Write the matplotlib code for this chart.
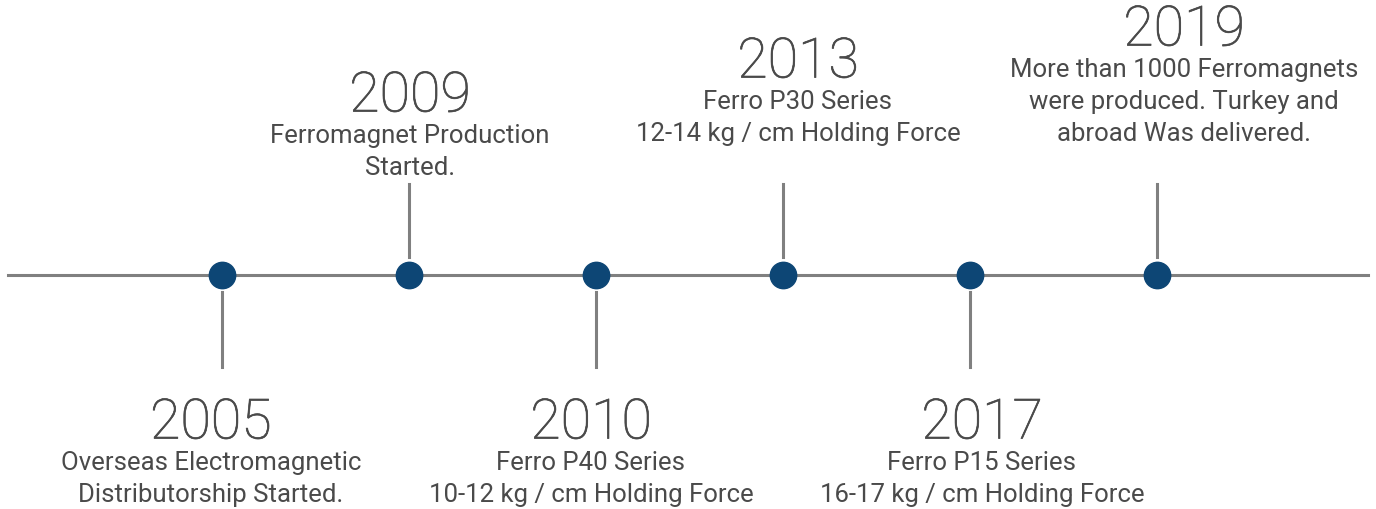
import matplotlib
matplotlib.use("Agg")
import matplotlib.pyplot as plt
import matplotlib.patheffects as pe

# timeline data
years = ["2005", "2009", "2010", "2013", "2017", "2019"]
descriptions = [
    ["Overseas Electromagnetic", "Distributorship Started."],
    ["Ferromagnet Production", "Started."],
    ["Ferro P40 Series", "10-12 kg / cm Holding Force"],
    ["Ferro P30 Series", "12-14 kg / cm Holding Force"],
    ["Ferro P15 Series", "16-17 kg / cm Holding Force"],
    ["More than 1000 Ferromagnets", "were produced. Turkey and", "abroad Was delivered."],
]
sides = ["down", "up", "down", "up", "down", "up"]

DOT = "#0d4675"
LINE = "#808080"
TXT = "#4a4a4a"

# label placement: y of the year label (pixel rows, axis inverted)
# and horizontal shift of the text block relative to its dot (in slots)
year_y = [424, 97, 424, 63, 424, 31]
text_dx = [-0.06, 0.005, -0.027, 0.08, 0.064, 0.144]

plt.rcParams["font.family"] = ["Roboto", "DejaVu Sans"]

fig = plt.figure(figsize=(13.76, 5.10), dpi=100)
ax = fig.add_axes([0, 0, 1, 1])
ax.set_xlim(-1.187, 6.171)
ax.set_ylim(510, 0)
ax.axis("off")

idx = list(range(len(years)))
ax.plot([idx[0] - 1.144, idx[-1] + 1.128], [276, 276], color=LINE, lw=2.2, zorder=1)

thick = [pe.withStroke(linewidth=0.5, foreground=TXT)]

for i, (yr, desc, side) in enumerate(zip(years, descriptions, sides)):
    if side == "up":
        ax.plot([i, i], [185, 258], color=LINE, lw=2.2, zorder=1)
        gap = 39
    else:
        ax.plot([i, i], [293, 368], color=LINE, lw=2.2, zorder=1)
        gap = 39.5
    tx = i + text_dx[i]
    ax.text(tx, year_y[i], yr, ha="center", va="center", fontsize=40,
            color=TXT, fontweight="light", path_effects=thick)
    for k, line in enumerate(desc):
        ax.text(tx, year_y[i] + gap + 32 * k, line, ha="center", va="center",
                fontsize=18.5, color=TXT)

ax.plot(idx, [276] * len(idx), "o", color=DOT, markersize=19, zorder=3)

fig.savefig("out.png", dpi=100)
